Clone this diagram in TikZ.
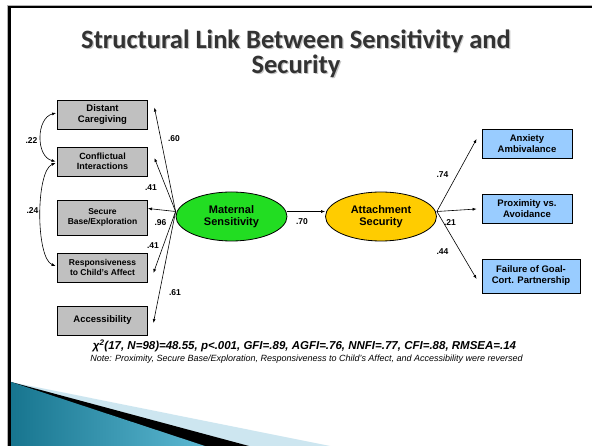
\documentclass[tikz,border=0pt]{standalone}
\usepackage{fontspec}
\setmainfont{Liberation Sans}
\newfontfamily\titlefont{Carlito}
\usetikzlibrary{arrows.meta,shapes.geometric,calc}
\definecolor{boxgray}{HTML}{C0C0C0}
\definecolor{boxblue}{HTML}{99CCFF}
\definecolor{msgreen}{HTML}{22DD22}
\definecolor{asyellow}{HTML}{FFCC00}
\definecolor{tealdark}{HTML}{17758F}
\definecolor{teallight}{HTML}{5CB8D2}
\definecolor{hatchblue}{HTML}{CDE6F0}
\definecolor{titlegray}{HTML}{333333}
\begin{document}
\begin{tikzpicture}[x=1pt,y=-1pt,
  lbox/.style={draw=black,line width=0.8pt,fill=boxgray,minimum width=90pt,minimum height=29pt,align=center,inner sep=1pt,font=\bfseries\fontsize{9}{10.5}\selectfont},
  rbox/.style={draw=black,line width=0.8pt,fill=boxblue,minimum width=90pt,minimum height=29pt,align=center,inner sep=1pt,font=\bfseries\fontsize{9.5}{11}\selectfont},
  latent/.style={ellipse,draw=black,line width=0.8pt,minimum width=111pt,minimum height=49pt,align=center,inner sep=0pt,font=\bfseries\fontsize{11}{12.5}\selectfont},
  arr/.style={-{Latex[length=4pt,width=3pt]},line width=0.6pt},
  darr/.style={{Latex[length=4pt,width=3pt]}-{Latex[length=4pt,width=3pt]},line width=0.6pt},
  coef/.style={inner sep=0pt,font=\bfseries\fontsize{8.5}{9}\selectfont},
  edge/.style={line width=2.7pt,black},
  titletext/.style={font=\titlefont\bfseries\fontsize{26.5}{25}\selectfont,align=center}
]
\useasboundingbox (0,0) rectangle (592,446);
\fill[white] (0,0) rectangle (592,446);
% bottom-left decoration
\fill[hatchblue] (11,382) -- (330,446) -- (11,446) -- cycle;
\fill[black] (11,382) -- (249,446) -- (11,446) -- cycle;
\shade[left color=tealdark,right color=teallight] (11,382) -- (205,446) -- (11,446) -- cycle;
% slide border
\draw[gray!60,line width=1pt] (7.8,446) -- (7.8,5.2) -- (592,5.2);
\draw[edge] (9.7,446) -- (9.7,7) -- (592,7);
% title
\node[titletext,text=gray!45] (titleshadow) at (297.2,54.7) {Structural Link Between Sensitivity and\\Security};
\node[titletext,text=titlegray] (title) at (296,53.5) {Structural Link Between Sensitivity and\\Security};
% left indicators
\node[lbox,font=\bfseries\fontsize{9.5}{11}\selectfont] (dc) at (102.5,114.5) {Distant\\Caregiving};
\node[lbox] (ci) at (102.5,161.5) {Conflictual\\Interactions};
\node[lbox,minimum height=35pt,font=\bfseries\fontsize{8.5}{10.5}\selectfont] (sb) at (102.5,217.5) {Secure\\Base/Exploration};
\node[lbox,font=\bfseries\fontsize{8.5}{10.5}\selectfont] (rc) at (102.5,267.5) {Responsiveness\\to Child's Affect};
\node[lbox,font=\bfseries\fontsize{9.5}{11}\selectfont] (ac) at (102.5,320.5) {Accessibility};
% latent variables
\node[latent,fill=msgreen] (ms) at (231.5,216.5) {Maternal\\Sensitivity};
\node[latent,fill=asyellow] (as) at (381,216.5) {Attachment\\Security};
% right indicators
\node[rbox] (ax) at (527,143.5) {Anxiety\\Ambivalance};
\node[rbox] (pa) at (527,208.5) {Proximity vs.\\Avoidance};
\node[rbox,minimum width=98pt,minimum height=34pt] (fg) at (531,276) {Failure of Goal-\\Cort. Partnership};
% connection points
\coordinate (msrc) at ($(ms.west)+(0,-5)$);
\coordinate (asrc) at ($(as.east)+(0,-5)$);
\coordinate (tdc) at ($(dc.east)+(6.5,-7)$);
\coordinate (tci) at ($(ci.east)+(6.5,-3.5)$);
\coordinate (tsb) at ($(sb.east)+(0,-9)$);
\coordinate (trc) at ($(rc.east)+(5.5,5.5)$);
\coordinate (tac) at ($(ac.east)+(5.5,2.5)$);
\coordinate (tax) at ($(ax.west)+(-5,-4.5)$);
\coordinate (tpa) at ($(pa.west)+(-5,0.5)$);
\coordinate (tfg) at ($(fg.west)+(-5,3)$);
% loadings
\draw[arr] (msrc) -- (tdc);
\draw[arr] (msrc) -- (tci);
\draw[arr] (msrc) -- (tsb);
\draw[arr] (msrc) -- (trc);
\draw[arr] (msrc) -- (tac);
\draw[arr] ($(ms.east)+(0,-5)$) -- ($(as.west)+(0,-5)$);
\draw[arr] (asrc) -- (tax);
\draw[arr] (asrc) -- (tpa);
\draw[arr] (asrc) -- (tfg);
% correlated errors
\draw[darr] ($(dc.west)+(-1,-1.5)$) .. controls +(-20,5) and +(-20,-5) .. ($(ci.west)+(-1.5,0)$);
\draw[darr] ($(ci.west)+(-1.5,1.5)$) .. controls +(-20,8) and +(-20,-8) .. ($(rc.west)+(-1.5,-1.5)$);
% coefficients
\node[coef] (c22) at (31.5,140.5) {.22};
\node[coef] (c24) at (32.5,210.5) {.24};
\node[coef] (c60) at (174,139) {.60};
\node[coef] (c41a) at (151,187.5) {.41};
\node[coef] (c96) at (160.5,222.5) {.96};
\node[coef] (c41b) at (153,245.5) {.41};
\node[coef] (c61) at (175,292.5) {.61};
\node[coef] (c70) at (302,221.5) {.70};
\node[coef] (c74) at (442.5,175) {.74};
\node[coef] (c21) at (450,223) {.21};
\node[coef] (c44) at (442.5,252) {.44};
% fit statistics
\node[font=\bfseries\itshape\fontsize{11.5}{13}\selectfont] (fit) at (304.5,346) {χ\textsuperscript{2}(17, N=98)=48.55, p<.001, GFI=.89, AGFI=.76, NNFI=.77, CFI=.88, RMSEA=.14};
\node[font=\itshape\fontsize{9}{10}\selectfont] (note) at (306.5,359) {Note: Proximity, Secure Base/Exploration, Responsiveness to Child's Affect, and Accessibility were reversed};
\end{tikzpicture}
\end{document}
